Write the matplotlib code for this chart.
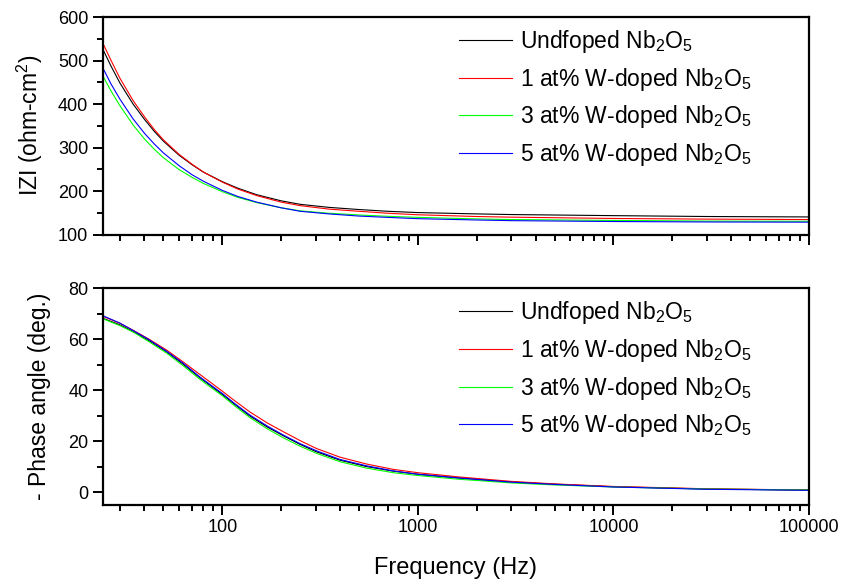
import matplotlib
matplotlib.use('Agg')
import matplotlib.pyplot as plt
from matplotlib.ticker import FixedLocator, FixedFormatter, MultipleLocator, LogLocator, NullFormatter

plt.rcParams['font.family'] = ['Liberation Sans', 'DejaVu Sans']
plt.rcParams['mathtext.default'] = 'regular'

labels = ['Undfoped Nb$_2$O$_5$', '1 at% W-doped Nb$_2$O$_5$',
          '3 at% W-doped Nb$_2$O$_5$', '5 at% W-doped Nb$_2$O$_5$']
colors = ['black', '#ff0000', '#00ff00', '#0000ff']

# |Z| vs frequency
freq_z = [24.5, 27, 30, 35, 40, 45, 50, 60, 70, 80, 100, 120, 150, 200, 250,
          350, 500, 700, 1000, 2000, 3000, 10000, 30000, 100000]
z_undoped = [526, 487, 448, 400, 365, 337, 315, 283, 261, 244, 222, 207, 192, 178, 170,
             163, 158, 154, 151, 148, 146.5, 144, 142, 141]
z_w1 = [540, 500, 459, 408, 371, 341, 318, 285, 262, 244, 221, 205, 190, 175, 167,
        159, 154, 149.5, 146, 142, 140.5, 137.5, 136, 135]
z_w3 = [465, 430, 396, 352, 320, 296, 277, 250, 232, 218, 199, 186, 174, 162, 155,
        149.5, 145.5, 142.5, 140, 136.5, 135, 133, 131.5, 131]
z_w5 = [483, 446, 411, 366, 333, 308, 288, 259, 238, 223, 202, 188, 175, 162, 154,
        148, 143, 140, 137, 134, 132.5, 130.5, 129.5, 129]

# phase angle vs frequency
freq_p = [24.5, 30, 35, 42, 52, 63, 77, 88, 100, 115, 138, 170, 205, 250, 303,
          400, 547, 750, 1000, 1641, 3000, 5000, 10000, 30000, 100000]
p_undoped = [68.2, 65.6, 63.0, 59.5, 55.0, 50.2, 44.8, 41.5, 38.3, 34.6, 29.9, 25.5, 22.1, 18.7, 15.8,
             12.5, 10.0, 8.2, 7.0, 5.5, 4.0, 3.1, 2.1, 1.2, 0.8]
p_w1 = [69.0, 66.2, 63.5, 60.1, 55.7, 51.1, 46.1, 42.8, 39.6, 36.0, 31.5, 27.1, 23.7, 20.2, 17.1,
        13.7, 11.0, 8.9, 7.6, 5.9, 4.2, 3.2, 2.2, 1.3, 0.8]
p_w3 = [68.0, 65.3, 62.8, 59.1, 54.5, 49.6, 44.2, 40.9, 37.8, 34.0, 29.3, 24.8, 21.3, 18.0, 15.2,
        11.9, 9.4, 7.6, 6.5, 5.0, 3.6, 2.8, 2.0, 1.2, 0.8]
p_w5 = [69.2, 66.3, 63.4, 59.9, 55.2, 50.6, 45.1, 41.8, 38.7, 34.9, 30.3, 25.9, 22.4, 19.0, 16.2,
        12.8, 10.3, 8.3, 7.0, 5.5, 3.9, 3.0, 2.0, 1.1, 0.7]

xticks = [100, 1000, 10000, 100000]
xticklabels = ['100', '1000', '10000', '100000']

fig = plt.figure(figsize=(8.57, 5.87), dpi=100)
ax1 = fig.add_axes([0.120, 0.600, 0.824, 0.371])
ax2 = fig.add_axes([0.120, 0.140, 0.824, 0.369])

for y, c, lab in zip([z_undoped, z_w1, z_w3, z_w5], colors, labels):
    ax1.plot(freq_z, y, color=c, lw=0.8, label=lab)
for y, c, lab in zip([p_undoped, p_w1, p_w3, p_w5], colors, labels):
    ax2.plot(freq_p, y, color=c, lw=0.8, label=lab)

for ax in (ax1, ax2):
    ax.set_xscale('log')
    ax.set_xlim(24.5, 100000)
    ax.xaxis.set_major_locator(FixedLocator(xticks))
    ax.xaxis.set_major_formatter(FixedFormatter(xticklabels))
    ax.xaxis.set_minor_locator(LogLocator(base=10, subs=range(2, 10), numticks=20))
    ax.xaxis.set_minor_formatter(NullFormatter())
    ax.tick_params(which='major', direction='out', length=7, width=1.4, labelsize=13)
    ax.tick_params(which='minor', direction='out', length=4, width=1.4)
    ax.tick_params(top=False, right=False)
    for s in ax.spines.values():
        s.set_linewidth(1.6)
    ax.legend(loc='upper left', bbox_to_anchor=(0.505, 0.95), frameon=False,
              fontsize=16.5, handlelength=2.3, handletextpad=0.35,
              labelspacing=0.47, borderaxespad=0, borderpad=0)

ax1.set_ylim(100, 600)
ax1.yaxis.set_major_locator(MultipleLocator(100))
ax1.yaxis.set_minor_locator(MultipleLocator(50))
ax1.tick_params(axis='x', labelbottom=False)
ax1.set_ylabel('IZI (ohm-cm$^2$)', fontsize=16.5, labelpad=9)

ax2.set_ylim(-5, 80)
ax2.yaxis.set_major_locator(MultipleLocator(20))
ax2.yaxis.set_minor_locator(MultipleLocator(10))
ax2.set_ylabel('- Phase angle (deg.)', fontsize=16.5, labelpad=12)
ax2.set_xlabel('Frequency (Hz)', fontsize=17, labelpad=15)

fig.savefig('out.png', dpi=100)
